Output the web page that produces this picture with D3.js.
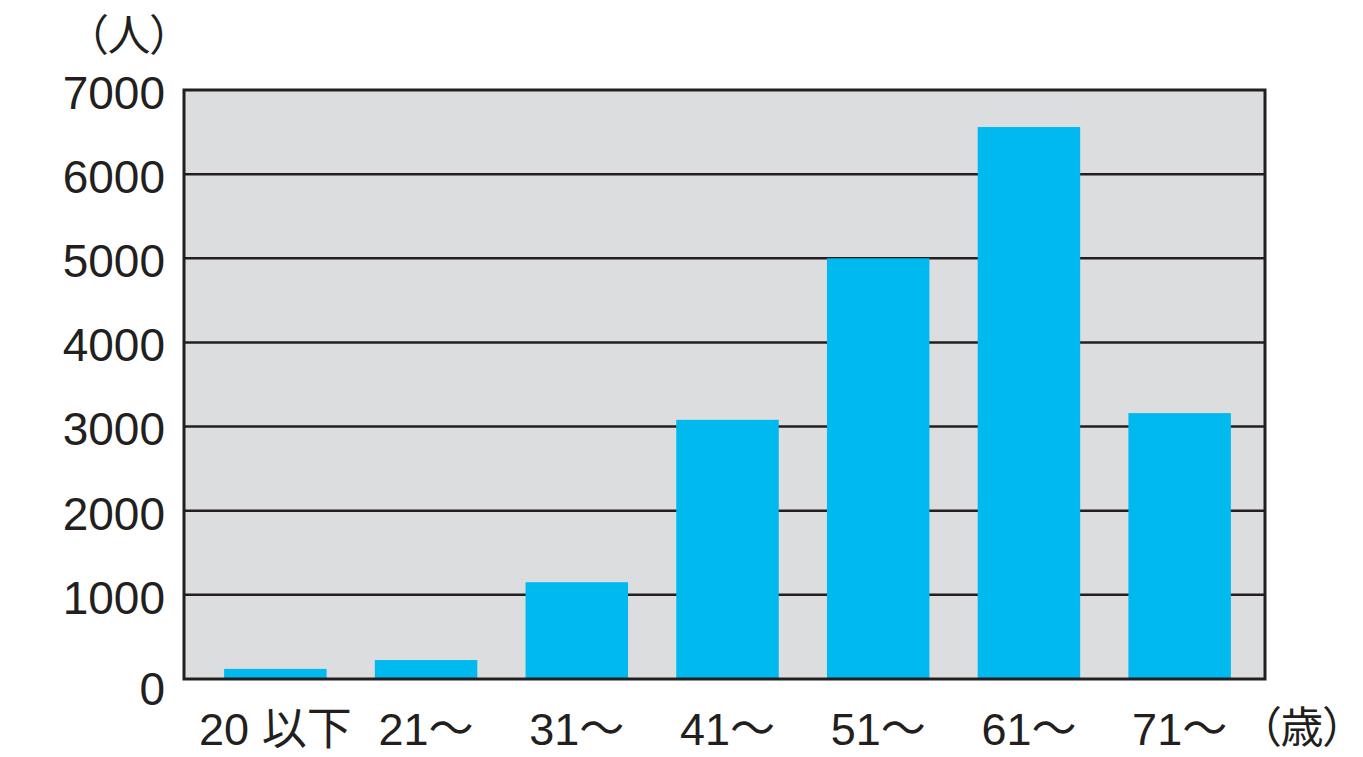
<!DOCTYPE html>
<html><head><meta charset="utf-8">
<script src="https://cdn.jsdelivr.net/npm/d3@7"></script>
<style>body{margin:0;background:#fff}svg{display:block}.unit{font-feature-settings:"palt"}</style>
</head><body>
<svg id="c" width="1363" height="757"></svg>
<script>
const categories = ["20 以下", "21～", "31～", "41～", "51～", "61～", "71～"];
const values = [120, 225, 1150, 3080, 5000, 6560, 3160];
const yTicks = [0, 1000, 2000, 3000, 4000, 5000, 6000, 7000];
const yUnit = "（人）";
const xUnit = "（歳）";

const svg = d3.select("#c");
const L = 184, R = 1265, T = 90, B = 679;
const y = d3.scaleLinear().domain([0, 7000]).range([B, T]);
const x = d3.scaleBand().domain(categories).range([200, 1255]).paddingInner(0.32).paddingOuter(0.16);
const latin = "'Liberation Sans', Arial, sans-serif";
const cjk = "'Liberation Sans', 'Noto Sans CJK JP', sans-serif";

svg.append("rect").attr("x", L).attr("y", T).attr("width", R - L).attr("height", B - T).attr("fill", "#dcdddf");

svg.append("g").selectAll("line").data(yTicks.filter(d => d > 0 && d < 7000)).join("line")
  .attr("x1", L).attr("x2", R).attr("y1", d => y(d)).attr("y2", d => y(d))
  .attr("stroke", "#231f20").attr("stroke-width", 2.5);

svg.append("g").selectAll("rect").data(values).join("rect")
  .attr("x", (d, i) => x(categories[i])).attr("width", x.bandwidth())
  .attr("y", d => y(d)).attr("height", d => y(0) - y(d))
  .attr("fill", "#00b9ef");

svg.append("rect").attr("x", L).attr("y", T).attr("width", R - L).attr("height", B - T)
  .attr("fill", "none").attr("stroke", "#231f20").attr("stroke-width", 3);

const yAxis = d3.axisLeft(y).tickValues(yTicks).tickSize(0).tickPadding(19).tickFormat(d3.format("d"));
const gy = svg.append("g").attr("transform", `translate(${L},0)`).call(yAxis);
gy.select(".domain").remove();
gy.selectAll("text").attr("font-family", latin).attr("font-size", 46).attr("fill", "#231f20")
  .attr("dy", d => d === 0 ? "0.56em" : "0.40em");

const xAxis = d3.axisBottom(x).tickSize(0).tickPadding(0);
const gx = svg.append("g").attr("transform", `translate(0,${B})`).call(xAxis);
gx.select(".domain").remove();
gx.selectAll("text").attr("font-family", cjk).attr("font-size", 45).attr("fill", "#231f20")
  .attr("dy", null).attr("y", 66);

svg.append("text").attr("class", "unit").attr("x", 172).attr("y", 51).attr("text-anchor", "end")
  .attr("font-family", "'Noto Sans CJK JP', sans-serif").attr("font-size", 43).attr("fill", "#231f20").text(yUnit);
svg.append("text").attr("class", "unit").attr("x", 1345).attr("y", 743).attr("text-anchor", "end")
  .attr("font-family", "'Noto Sans CJK JP', sans-serif").attr("font-size", 43).attr("fill", "#231f20").text(xUnit);
</script>
</body></html>
